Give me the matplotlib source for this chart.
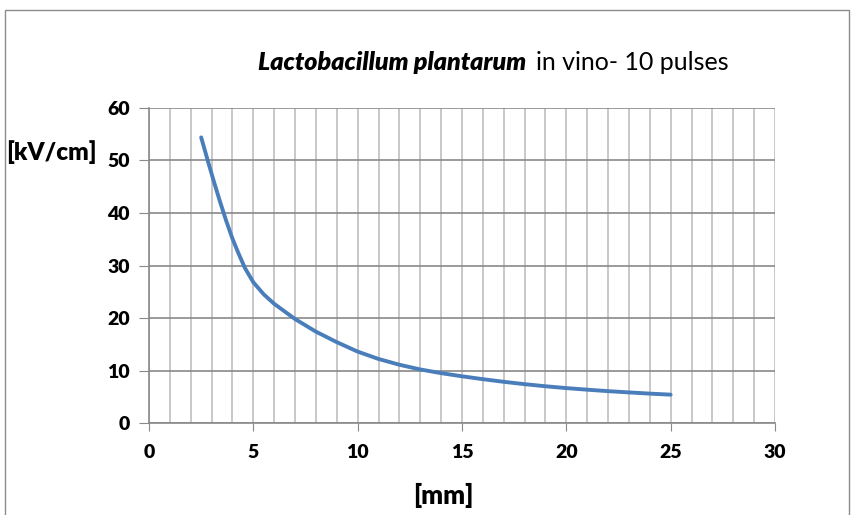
import matplotlib
matplotlib.use("Agg")
import matplotlib.pyplot as plt
from matplotlib.patches import Rectangle
from matplotlib.ticker import MultipleLocator

# distance [mm] vs field strength [kV/cm]
distance_mm = [2.5, 2.8, 3.1, 3.4, 3.7, 4.0, 4.3, 4.6, 5.0, 5.5, 6.0, 7.0, 8.0, 9.0,
               10.0, 11.0, 12.0, 13.0, 14.0, 15.0, 16.0, 17.0, 18.0, 19.0, 20.0,
               21.0, 22.0, 23.0, 24.0, 25.0]
field_kv_cm = [54.4, 50.2, 46.1, 42.2, 38.5, 35.1, 32.2, 29.5, 26.8, 24.5, 22.7, 19.8, 17.4, 15.4,
               13.6, 12.2, 11.1, 10.2, 9.5, 8.9, 8.35, 7.85, 7.4, 7.0, 6.65,
               6.35, 6.07, 5.83, 5.6, 5.4]

x_ticks = [0, 5, 10, 15, 20, 25, 30]
y_ticks = [0, 10, 20, 30, 40, 50, 60]

plt.rcParams["font.family"] = ["Lato", "DejaVu Sans"]

fig = plt.figure(figsize=(8.52, 5.15), dpi=100)
ax = fig.add_axes([0.1749, 0.1786, 0.9096 - 0.1749, 0.7903 - 0.1786])

# outer chart border like Excel
fig.patches.append(Rectangle((0.006, -0.05), 0.99, 1.03, transform=fig.transFigure,
                             fill=False, edgecolor="#8c8c8c", linewidth=1.0))

ax.plot(distance_mm, field_kv_cm, color="#4a7ebb", linewidth=2.8,
        solid_capstyle="round", solid_joinstyle="round", zorder=3)

ax.set_xlim(0, 30)
ax.set_ylim(0, 60)
ax.set_xticks(x_ticks, labels=[str(v) for v in x_ticks], fontweight="heavy")
ax.set_yticks(y_ticks, labels=[str(v) for v in y_ticks], fontweight="heavy")
ax.xaxis.set_minor_locator(MultipleLocator(1))
ax.grid(which="minor", axis="x", color="#bfbfbf", linewidth=1.2)
ax.grid(which="major", axis="x", color="#bfbfbf", linewidth=1.2)
ax.grid(which="major", axis="y", color="#898989", linewidth=1.2)
ax.set_axisbelow(True)

for side in ["top", "right"]:
    ax.spines[side].set_visible(False)
for side in ["left", "bottom"]:
    ax.spines[side].set_color("#898989")
    ax.spines[side].set_linewidth(1.2)

ax.tick_params(axis="x", which="major", direction="out", length=6, color="#898989",
               labelsize=14, pad=9)
ax.tick_params(axis="x", which="minor", length=0)
ax.tick_params(axis="y", direction="out", length=7, color="#898989", labelsize=14, pad=7)

title_y = 1 - 62 / 515
t1 = fig.text(258 / 852, title_y, "Lactobacillum plantarum", ha="left", va="center",
              fontsize=18, fontweight="heavy", fontstyle="italic")
fig.canvas.draw()
bb = t1.get_window_extent()
fig.text(bb.x1 / fig.bbox.width + 0.012, title_y, "in vino- 10 pulses", ha="left",
         va="center", fontsize=18)

fig.text(6 / 852, 1 - 152 / 515, "[kV/cm]", ha="left", va="center", fontsize=17.5,
         fontweight="heavy")
fig.text(443 / 852, 1 - 495 / 515, "[mm]", ha="center", va="center", fontsize=18.5,
         fontweight="heavy")

fig.savefig("out.png", dpi=100)
